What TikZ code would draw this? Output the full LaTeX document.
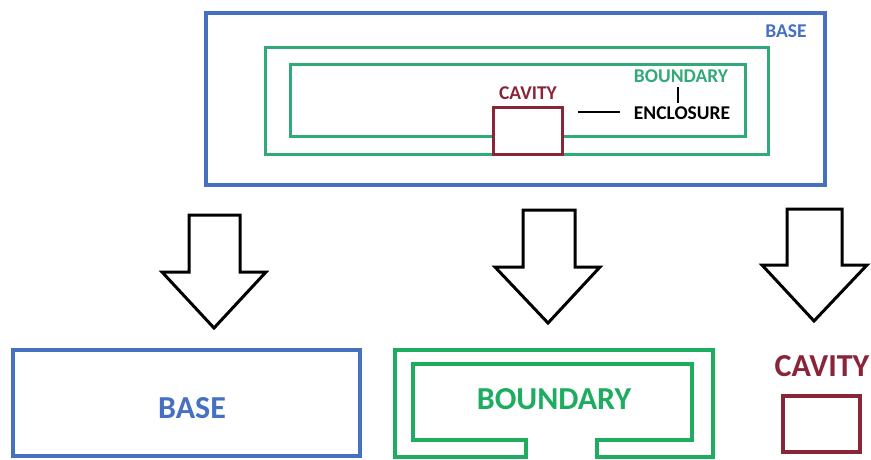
\documentclass[tikz,border=0pt]{standalone}
\usepackage{fontspec}
\setmainfont{Carlito}
\definecolor{baseblue}{RGB}{70,112,192}
\definecolor{tgreen}{RGB}{48,170,118}
\definecolor{bgreen}{RGB}{30,172,96}
\definecolor{cavred}{RGB}{138,36,56}
\begin{document}
\begin{tikzpicture}[x=1pt,y=-1pt,
  box/.style={draw, inner sep=0pt, minimum width=#1},
  small/.style={font=\fontsize{19.5}{22}\selectfont\bfseries, inner sep=0pt},
  big/.style={font=\fontsize{32}{37}\selectfont\bfseries, inner sep=0pt},
  blockarrow/.style={draw=black, line width=3pt, line join=miter, fill=white}]
\useasboundingbox (0,0) rectangle (871,459);
% ---------- top composite ----------
\node[box=619pt, minimum height=172pt, draw=baseblue, line width=4pt] (base) at (515.5,99) {};
\node[small, text=baseblue] (baselbl) at (786,31) {BASE};
\node[box=503pt, minimum height=107pt, draw=tgreen, line width=3pt] (outer) at (516.5,100.5) {};
\node[box=455pt, minimum height=72pt, draw=tgreen, line width=3pt] (inner) at (517.5,100) {};
\node[box=69pt, minimum height=47pt, draw=cavred, fill=white, line width=3pt] (cav) at (527.5,130.5) {};
\node[small, text=cavred] (cavlbl) at (528,93) {CAVITY};
\node[small, text=tgreen] (bndlbl) at (681,76) {BOUNDARY};
\node[small, text=black] (enclbl) at (682,113) {ENCLOSURE};
\coordinate (tickA) at (678,87);
\coordinate (tickB) at (678,103);
\draw[line width=2pt] (tickA) -- (tickB);
\coordinate (hA) at (578,112);
\coordinate (hB) at (620,112);
\draw[line width=2.5pt] (hA) -- (hB);
% ---------- arrows ----------
\draw[blockarrow] (189,215) -- (240,215) -- (240,272) -- (266,272) -- (214,328) -- (162,272) -- (189,272) -- cycle;
\draw[blockarrow] (523,210) -- (575,210) -- (575,267) -- (600,267) -- (548,323) -- (495,267) -- (523,267) -- cycle;
\draw[blockarrow] (787,209) -- (842,209) -- (842,265) -- (867,265) -- (814,321) -- (762,265) -- (787,265) -- cycle;
% ---------- bottom parts ----------
\node[box=347pt, minimum height=106pt, draw=baseblue, line width=4pt] (base2) at (186.5,403) {};
\node[big, text=baseblue] (base2lbl) at (192,408) {BASE};
\draw[bgreen, line width=4pt, line join=miter] (395,457) -- (526,457) -- (526,440) -- (413,440) -- (413,364) -- (692,364) -- (692,440) -- (597,440) -- (597,457) -- (713,457) -- (713,350) -- (395,350) -- cycle;
\node[big, text=bgreen] (bnd2lbl) at (554,399) {BOUNDARY};
\node[big, text=cavred] (cav2lbl) at (822,366) {CAVITY};
\node[box=77pt, minimum height=56pt, draw=cavred, line width=4pt] (cav2) at (821.5,424) {};
\end{tikzpicture}
\end{document}
